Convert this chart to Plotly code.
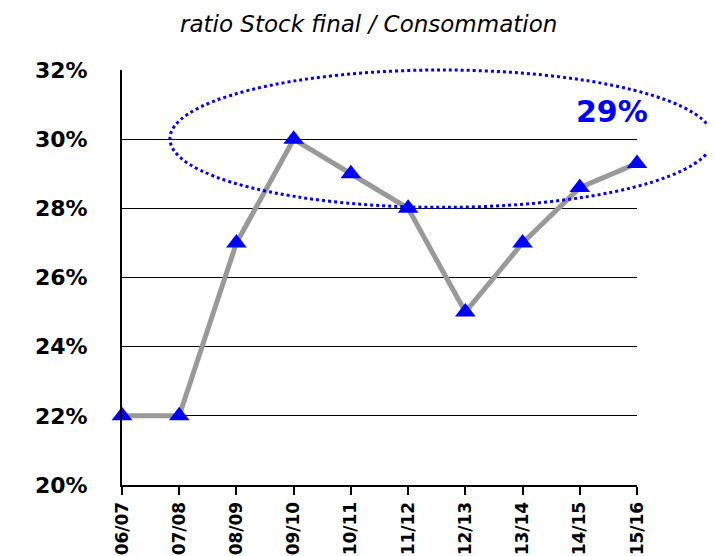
import plotly.graph_objects as go

# Campaign labels and stock/consumption ratio
campaigns = ["06/07", "07/08", "08/09", "09/10", "10/11", "11/12", "12/13", "13/14", "14/15", "15/16"]
ratio = [0.22, 0.22, 0.27, 0.30, 0.29, 0.28, 0.25, 0.27, 0.286, 0.293]
y_ticks = [0.20, 0.22, 0.24, 0.26, 0.28, 0.30, 0.32]
highlight_label = "29%"

positions = list(range(len(campaigns)))

fig = go.Figure()

fig.add_trace(go.Scatter(
    x=positions,
    y=ratio,
    mode="lines+markers",
    line=dict(color="#999999", width=5),
    marker=dict(symbol="triangle-up", size=18, color="#0000FF"),
    cliponaxis=False,
    showlegend=False,
))

# dotted ellipse around the recent values (paper coords so it isn't clipped)
fig.add_shape(
    type="circle",
    xref="paper", yref="paper",
    x0=0.093, x1=1.148,
    y0=0.669, y1=1.0,
    line=dict(color="#0000FF", width=3, dash="dot"),
    layer="above",
)

fig.add_annotation(
    text=highlight_label,
    xref="paper", yref="y",
    x=0.951, y=0.3081,
    xanchor="center", yanchor="middle",
    showarrow=False,
    font=dict(family="DejaVu Sans, Arial, sans-serif", size=30, color="#0000FF", weight="bold"),
)

# chart title as an annotation above the plot area
fig.add_annotation(
    text="<i>ratio Stock final / Consommation</i>",
    xref="paper", yref="paper",
    x=0.478, y=1.11,
    xanchor="center", yanchor="middle",
    showarrow=False,
    font=dict(family="DejaVu Sans, Arial, sans-serif", size=23, color="black"),
)

# page has an 8px body margin, so the figure is 8px smaller than the window
fig.update_layout(
    width=707,
    height=548,
    margin=dict(l=114, r=78, t=62, b=71),
    paper_bgcolor="white",
    plot_bgcolor="white",
)

fig.update_xaxes(
    range=[0, len(campaigns) - 1],
    tickmode="array",
    tickvals=positions,
    ticktext=campaigns,
    tickangle=-90,
    tickfont=dict(family="DejaVu Sans, Arial, sans-serif", size=17, color="black", weight="bold"),
    showgrid=False,
    zeroline=False,
    showline=True,
    linecolor="black",
    linewidth=2,
    ticks="outside",
    ticklen=8,
    tickcolor="black",
    tickwidth=2,
    automargin=False,
)

fig.update_yaxes(
    range=[0.20, 0.32],
    tickmode="array",
    tickvals=y_ticks,
    tickformat=".0%",
    tickfont=dict(family="DejaVu Sans, Arial, sans-serif", size=22, color="black", weight="bold"),
    showgrid=True,
    gridcolor="black",
    gridwidth=1,
    zeroline=False,
    showline=True,
    linecolor="black",
    linewidth=2,
    ticks="",
    ticklabelstandoff=28,
    automargin=False,
)

fig.write_html("out.html")
